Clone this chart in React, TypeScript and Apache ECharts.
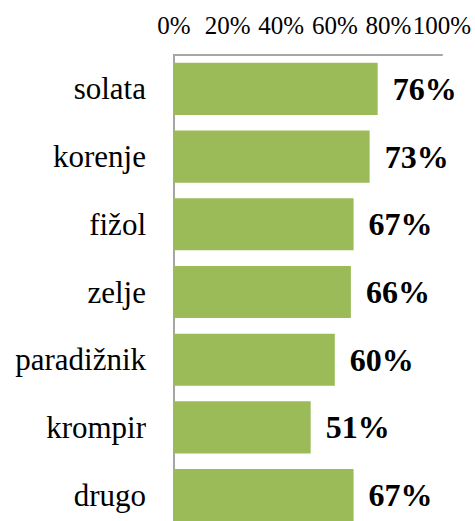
import React, { useEffect, useRef } from "react";
import * as echarts from "echarts";

const categories = ["solata", "korenje", "fižol", "zelje", "paradižnik", "krompir", "drugo"];
const values = [76, 73, 67, 66, 60, 51, 67];
const tickMin = 0;
const tickMax = 100;
const tickStep = 20;

const FONT = '"Liberation Serif", "Times New Roman", serif';

export default function App() {
  const ref = useRef<HTMLDivElement>(null);
  useEffect(() => {
    if (!ref.current) return;
    const chart = echarts.init(ref.current, undefined, { renderer: "svg" });
    chart.setOption({
      animation: false,
      grid: { left: 174, right: 33, top: 55, bottom: 0, containLabel: false },
      xAxis: {
        type: "value",
        position: "top",
        min: tickMin,
        max: tickMax,
        interval: tickStep,
        axisLine: { show: true, lineStyle: { color: "#A6A6A6", width: 2 } },
        axisTick: { show: false },
        splitLine: { show: false },
        axisLabel: {
          formatter: (v: number) => v + "%",
          fontFamily: FONT,
          fontSize: 25,
          color: "#000",
          margin: 17,
        },
      },
      yAxis: {
        type: "category",
        data: categories,
        inverse: true,
        axisLine: { show: true, lineStyle: { color: "#A6A6A6", width: 2 } },
        axisTick: { show: false },
        axisLabel: {
          fontFamily: FONT,
          fontSize: 31,
          color: "#000",
          margin: 28,
        },
      },
      series: [
        {
          type: "bar",
          data: values,
          barCategoryGap: "23%",
          itemStyle: { color: "#9BBB59" },
          label: {
            show: true,
            position: "right",
            distance: 15,
            formatter: (p: any) => p.value + "%",
            fontFamily: FONT,
            fontSize: 32,
            fontWeight: "bold",
            color: "#000",
          },
        },
      ],
    });
    return () => chart.dispose();
  }, []);
  return (
    <div
      ref={ref}
      style={{ position: "fixed", left: 0, top: 0, width: 475, height: 529, background: "#fff" }}
    />
  );
}
